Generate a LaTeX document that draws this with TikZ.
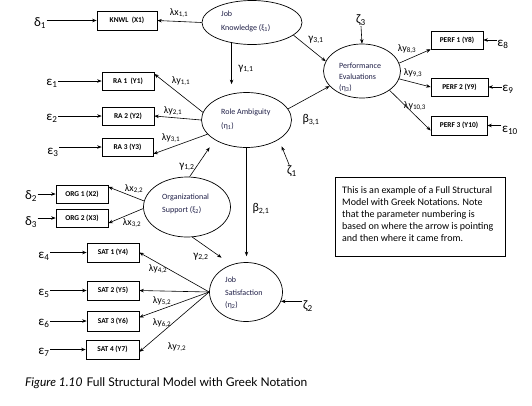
\documentclass[tikz,border=0pt]{standalone}
\usepackage{fontspec}
\setmainfont{Carlito}
\newfontfamily\capfont{Lato}
\usetikzlibrary{shapes.geometric,arrows.meta}
\definecolor{etxtcol}{RGB}{30,30,70}
\newcommand{\sbs}[1]{\textsubscript{#1}}
\begin{document}
\begin{tikzpicture}[x=1pt,y=-1pt,
  obs/.style={draw, line width=0.7pt, minimum height=18pt, inner sep=0pt,
    font=\fontsize{7.4}{8}\selectfont\bfseries},
  lat/.style={draw, ellipse, line width=0.7pt, inner sep=0pt},
  etxt/.style={font=\fontsize{8}{12}\selectfont, align=left, inner sep=0pt, anchor=west, text=etxtcol},
  err/.style={font=\fontsize{13}{13}\selectfont, inner sep=0.5pt},
  par/.style={font=\fontsize{10}{10}\selectfont, inner sep=0.5pt},
  arr/.style={-{Stealth[length=4.5pt,width=3.5pt]}, line width=0.6pt}]
\useasboundingbox (0,0) rectangle (532,405);

% observed boxes
\node[obs, minimum width=60pt, minimum height=19pt] (knwl) at (127,20.5) {KNWL \ (X1)};
\node[obs, minimum width=52pt] (ra1) at (128,81) {RA 1 \ (Y1)};
\node[obs, minimum width=52pt] (ra2) at (128,116) {RA 2 (Y2)};
\node[obs, minimum width=51pt] (ra3) at (127.5,147) {RA 3 (Y3)};
\node[obs, minimum width=52pt] (org1) at (82,194) {ORG 1 (X2)};
\node[obs, minimum width=52pt] (org2) at (82,218) {ORG 2 (X3)};
\node[obs, minimum width=52pt, minimum height=19pt] (sat1) at (113,252.5) {SAT 1 (Y4)};
\node[obs, minimum width=52pt, minimum height=19pt] (sat2) at (113,290.5) {SAT 2 (Y5)};
\node[obs, minimum width=52pt, minimum height=20pt] (sat3) at (113,321) {SAT 3 (Y6)};
\node[obs, minimum width=53pt, minimum height=19pt] (sat4) at (112.5,349.5) {SAT 4 (Y7)};
\node[obs, minimum width=52pt] (perf1) at (457,40) {PERF 1 (Y8)};
\node[obs, minimum width=57pt] (perf2) at (459.5,87) {PERF 2 (Y9)};
\node[obs, minimum width=56pt, minimum height=19pt] (perf3) at (459,125.5) {PERF 3 (Y10)};

% latent ellipses
\node[lat, minimum width=100pt, minimum height=44pt] (jk) at (252,22.5) {};
\node[etxt, font=\fontsize{8}{14}\selectfont] (jkt) at (221,21) {Job\\Knowledge (ξ\sbs{1})};
\node[lat, minimum width=90pt, minimum height=55pt] (ra) at (246.5,120) {};
\node[etxt, font=\fontsize{8}{14}\selectfont] (rat) at (221,119) {Role Ambiguity\\(η\sbs{1})};
\node[lat, minimum width=77pt, minimum height=54pt] (pe) at (362,71) {};
\node[etxt, font=\fontsize{8}{11}\selectfont] (pet) at (339,77) {Performance\\Evaluations\\(η\sbs{3})};
\node[lat, minimum width=87pt, minimum height=60pt] (os) at (187,207) {};
\node[etxt, font=\fontsize{8}{13}\selectfont] (ost) at (162,204) {Organizational\\Support (ξ\sbs{2})};
\node[lat, minimum width=73pt, minimum height=59pt] (js) at (246,292) {};
\node[etxt, font=\fontsize{8}{12.5}\selectfont] (jst) at (225,293) {Job\\Satisfaction\\(η\sbs{2})};

% error / disturbance labels
\node[err] (d1) at (40,23) {δ\sbs{1}};
\node[err] (e1) at (52,83) {ε\sbs{1}};
\node[err] (e2) at (52,118) {ε\sbs{2}};
\node[err] (e3) at (53,152) {ε\sbs{3}};
\node[err] (d2) at (31,196) {δ\sbs{2}};
\node[err] (d3) at (31,222) {δ\sbs{3}};
\node[err] (e4) at (44,256) {ε\sbs{4}};
\node[err] (e5) at (44,293) {ε\sbs{5}};
\node[err] (e6) at (44,323) {ε\sbs{6}};
\node[err] (e7) at (44,352) {ε\sbs{7}};
\node[err] (e8) at (503,44) {ε\sbs{8}};
\node[err] (e9) at (508,89) {ε\sbs{9}};
\node[err] (e10) at (510,130) {ε\sbs{10}};
\node[err] (z3) at (361,20) {ζ\sbs{3}};
\node[err] (z1) at (292,171) {ζ\sbs{1}};
\node[err] (z2) at (308,306) {ζ\sbs{2}};

% error arrows
\draw[arr] (d1.east |- knwl.west) -- (knwl.west);
\draw[arr] (e1.east |- ra1.west) -- (ra1.west);
\draw[arr] (e2.east |- ra2.west) -- (ra2.west);
\draw[arr] (e3.east |- ra3.west) -- (ra3.west);
\draw[arr] (d2.east |- org1.west) -- (org1.west);
\draw[arr] (d3.east |- org2.west) -- (org2.west);
\draw[arr] (e4.east |- sat1.west) -- (sat1.west);
\draw[arr] (e5.east |- sat2.west) -- (sat2.west);
\draw[arr] (e6.east |- sat3.west) -- (sat3.west);
\draw[arr] (e7.east |- sat4.west) -- (sat4.west);
\draw[arr] (e8.west |- perf1.east) -- (perf1.east);
\draw[arr] (e9.west |- perf2.east) -- (perf2.east);
\draw[arr] (e10.west |- perf3.east) -- (perf3.east);
\draw[arr] (z3.south) -- (pe.north);
\draw[arr, shorten >=7.5pt] (z1.115) -- (ra.-31);
\draw[arr] (z2.west |- js.-15) -- (js.-15);

% loadings
\draw[arr] (jk.west) -- (knwl.east);
\draw[arr] (ra.170) -- (ra1.15);
\draw[arr] (ra.180) -- (ra2.east);
\draw[arr] (ra.200) -- (ra3.-15);
\draw[arr] (pe.12) -- (perf1.south west);
\draw[arr] (pe.-12) -- (perf2.west);
\draw[arr] (pe.-35) -- (perf3.190);
\draw[arr] (os.172) -- (org1.15);
\draw[arr] (os.182) -- (org2.-11);
\draw[arr] (js.180) -- (sat1.east);
\draw[arr] (js.180) -- (sat2.east);
\draw[arr] (js.180) -- (sat3.8);
\draw[arr] (js.180) -- (sat4.-5);

% structural paths
\draw[arr, shorten >=8pt] (jk.-135) -- (jk.-135 |- ra.north);
\draw[arr] (jk.-17) -- (pe.165);
\draw[arr] (ra.15) -- (pe.205);
\draw[arr, shorten >=6pt] (ra.south) -- (ra.south |- js.north);
\draw[arr, shorten >=9pt] (os.85) -- (ra.212);
\draw[arr, shorten >=12pt] (os.-80) -- (js.118);

% parameter labels
\node[par] (l11) at (179,13) {λx\sbs{1,1}};
\node[par, font=\fontsize{11}{11}\selectfont] (g11) at (246,69) {γ\sbs{1,1}};
\node[par, font=\fontsize{11}{11}\selectfont] (g31) at (316,40) {γ\sbs{3,1}};
\node[par] (l83) at (407,49) {λy\sbs{8,3}};
\node[par] (l93) at (413,73) {λy\sbs{9,3}};
\node[par] (l103) at (415,106) {λy\sbs{10,3}};
\node[par] (ly11) at (181,81) {λy\sbs{1,1}};
\node[par] (ly21) at (173,111) {λy\sbs{2,1}};
\node[par] (ly31) at (171,138) {λy\sbs{3,1}};
\node[par, font=\fontsize{12}{12}\selectfont] (b31) at (311,120) {β\sbs{3,1}};
\node[par, font=\fontsize{11}{11}\selectfont] (g12) at (187,167) {γ\sbs{1,2}};
\node[par, font=\fontsize{12}{12}\selectfont] (b21) at (261,209) {β\sbs{2,1}};
\node[par] (lx22) at (134,189) {λx\sbs{2,2}};
\node[par] (lx32) at (132,223) {λx\sbs{3,2}};
\node[par, font=\fontsize{11}{11}\selectfont] (g22) at (201,257) {γ\sbs{2,2}};
\node[par] (ly42) at (158,269) {λy\sbs{4,2}};
\node[par] (ly52) at (162,301) {λy\sbs{5,2}};
\node[par] (ly62) at (162,323) {λy\sbs{6,2}};
\node[par] (ly72) at (177,347) {λy\sbs{7,2}};

% note box
\node[draw, line width=0.8pt, minimum width=170pt, minimum height=79pt, inner sep=0pt] (note) at (420,216.5) {};
\node[anchor=north west, align=left, inner sep=0pt, font=\fontsize{10}{12.2}\selectfont] (notet) at (342,186)
  {This is an example of a Full Structural\\Model with Greek Notations. Note\\that the parameter numbering is\\based on where the arrow is pointing\\and then where it came from.};

% caption
\node[anchor=west, inner sep=0pt, font=\capfont\fontsize{12}{12}\selectfont] (cap) at (25,383)
  {\textit{Figure 1.10}\hspace{4pt}Full Structural Model with Greek Notation};
\end{tikzpicture}
\end{document}
